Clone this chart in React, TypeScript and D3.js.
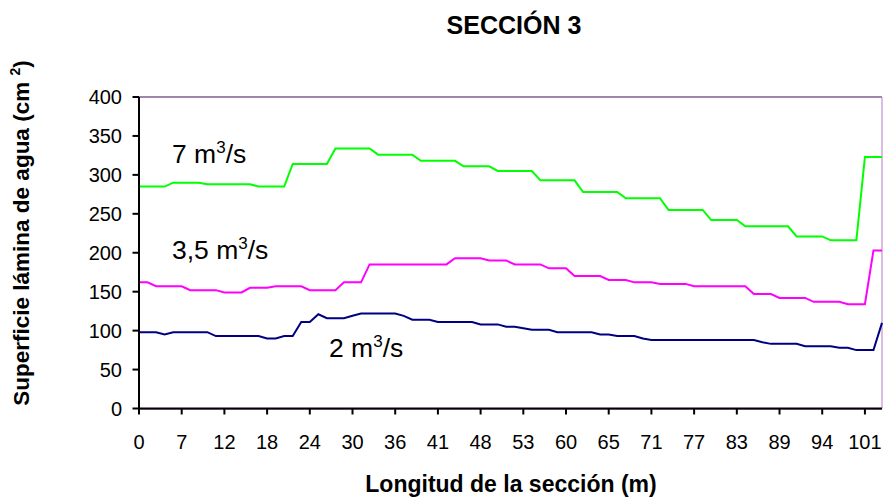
import React from "react";
import * as d3 from "d3";

const tickLabels = ["0", "7", "12", "18", "24", "30", "36", "41", "48", "53", "60", "65", "71", "77", "83", "89", "94", "101"];
const yTicks = [0, 50, 100, 150, 200, 250, 300, 350, 400];

// 88 measurement points per series (one category label shown every 5 points)
const q7 = [
  285, 285, 285, 285, 290, 290, 290, 290, 288, 288, 288, 288, 288, 288, 285, 285, 285, 285,
  314, 314, 314, 314, 314, 334, 334, 334, 334, 334, 326, 326, 326, 326, 326, 318, 318, 318, 318, 318,
  311, 311, 311, 311, 305, 305, 305, 305, 305, 293, 293, 293, 293, 293, 278, 278, 278, 278, 278,
  270, 270, 270, 270, 270, 255, 255, 255, 255, 255, 242, 242, 242, 242, 234, 234, 234, 234, 234, 234,
  221, 221, 221, 221, 216, 216, 216, 216, 323, 323, 323,
];
const q35 = [
  162, 162, 157, 157, 157, 157, 152, 152, 152, 152, 149, 149, 149, 155, 155, 155, 157, 157, 157, 157,
  152, 152, 152, 152, 162, 162, 162, 185, 185, 185, 185, 185, 185, 185, 185, 185, 185,
  193, 193, 193, 193, 190, 190, 190, 185, 185, 185, 185, 180, 180, 180, 170, 170, 170, 170,
  165, 165, 165, 162, 162, 162, 160, 160, 160, 160, 157, 157, 157, 157, 157, 157, 157,
  147, 147, 147, 142, 142, 142, 142, 137, 137, 137, 137, 134, 134, 134, 203, 203,
];
const q2 = [
  98, 98, 98, 95, 98, 98, 98, 98, 98, 93, 93, 93, 93, 93, 93, 90, 90, 93, 93, 111, 111, 121,
  116, 116, 116, 119, 122, 122, 122, 122, 122, 119, 114, 114, 114, 111, 111, 111, 111, 111,
  108, 108, 108, 105, 105, 103, 101, 101, 101, 98, 98, 98, 98, 98, 95, 95, 93, 93, 93, 90,
  88, 88, 88, 88, 88, 88, 88, 88, 88, 88, 88, 88, 88, 85, 83, 83, 83, 83, 80, 80, 80, 80,
  78, 78, 75, 75, 75, 110,
];

const seriesColors = ["#00FF00", "#FF00FF", "#000080"];

const W = 883;
const H = 501;
const left = 139;
const right = 882;
const top = 97;
const bottom = 408.5;
const FONT = "'Liberation Sans', Arial, sans-serif";

export default function App() {
  const n = q7.length;
  const x = d3.scaleLinear().domain([0, n - 1]).range([left, right]);
  const y = d3.scaleLinear().domain([0, 400]).range([bottom, top]);
  const line = d3
    .line<number>()
    .x((_, i) => x(i))
    .y((d) => y(d));

  const series = [q7, q35, q2];

  return (
    <svg
      width={W}
      height={H}
      style={{ position: "absolute", left: 0, top: 0, background: "#fff" }}
      fontFamily={FONT}
    >
      <rect x={0} y={0} width={W} height={H} fill="#fff" />
      {/* title */}
      <text x={514} y={34} textAnchor="middle" fontSize={25} fontWeight="bold" fill="#000">
        SECCIÓN 3
      </text>

      {/* plot area border */}
      <line x1={left} x2={right} y1={top} y2={top} stroke="#9F86A8" strokeWidth={2} />
      <line x1={right} x2={right} y1={top} y2={bottom} stroke="#C58FD0" strokeWidth={1.2} />
      <line x1={left} x2={right} y1={bottom + 1} y2={bottom + 1} stroke="#B68CC0" strokeWidth={1} />

      {/* series */}
      {series.map((s, k) => (
        <path key={k} d={line(s) || ""} fill="none" stroke={seriesColors[k]} strokeWidth={2} strokeLinejoin="miter" />
      ))}

      {/* axes */}
      <line x1={left} x2={left} y1={top} y2={bottom} stroke="#000" strokeWidth={2} />
      <line x1={left - 1} x2={right} y1={bottom} y2={bottom} stroke="#000" strokeWidth={2} />
      {yTicks.map((t) => (
        <g key={t}>
          <line x1={left - 6.5} x2={left} y1={y(t)} y2={y(t)} stroke="#000" strokeWidth={2} />
          <text x={122} y={y(t)} dy="0.35em" textAnchor="end" fontSize={20} fill="#000">
            {t}
          </text>
        </g>
      ))}
      {tickLabels.map((lab, j) => {
        const xi = x(j * 5);
        return (
          <g key={lab}>
            <line x1={xi} x2={xi} y1={bottom} y2={bottom + 6} stroke="#000" strokeWidth={2} />
            <text x={xi} y={449} textAnchor="middle" fontSize={20} fill="#000">
              {lab}
            </text>
          </g>
        );
      })}

      {/* axis titles */}
      <text x={511} y={492} textAnchor="middle" fontSize={23} fontWeight="bold" fill="#000">
        Longitud de la sección (m)
      </text>
      <text transform="translate(29,233) rotate(-90)" textAnchor="middle" fontSize={22.5} fontWeight="bold" fill="#000">
        Superficie lámina de agua (cm{" "}
        <tspan dy={-9} fontSize={14}>2</tspan>
        <tspan dy={9}>)</tspan>
      </text>

      {/* series annotations */}
      <text x={172} y={163} fontSize={26.5} fill="#000">
        7 m<tspan dy={-10} fontSize={17}>3</tspan>
        <tspan dy={10}>/s</tspan>
      </text>
      <text x={172} y={259} fontSize={26.5} fill="#000">
        3,5 m<tspan dy={-10} fontSize={17}>3</tspan>
        <tspan dy={10}>/s</tspan>
      </text>
      <text x={329} y={356.5} fontSize={26.5} fill="#000">
        2 m<tspan dy={-10} fontSize={17}>3</tspan>
        <tspan dy={10}>/s</tspan>
      </text>
    </svg>
  );
}
